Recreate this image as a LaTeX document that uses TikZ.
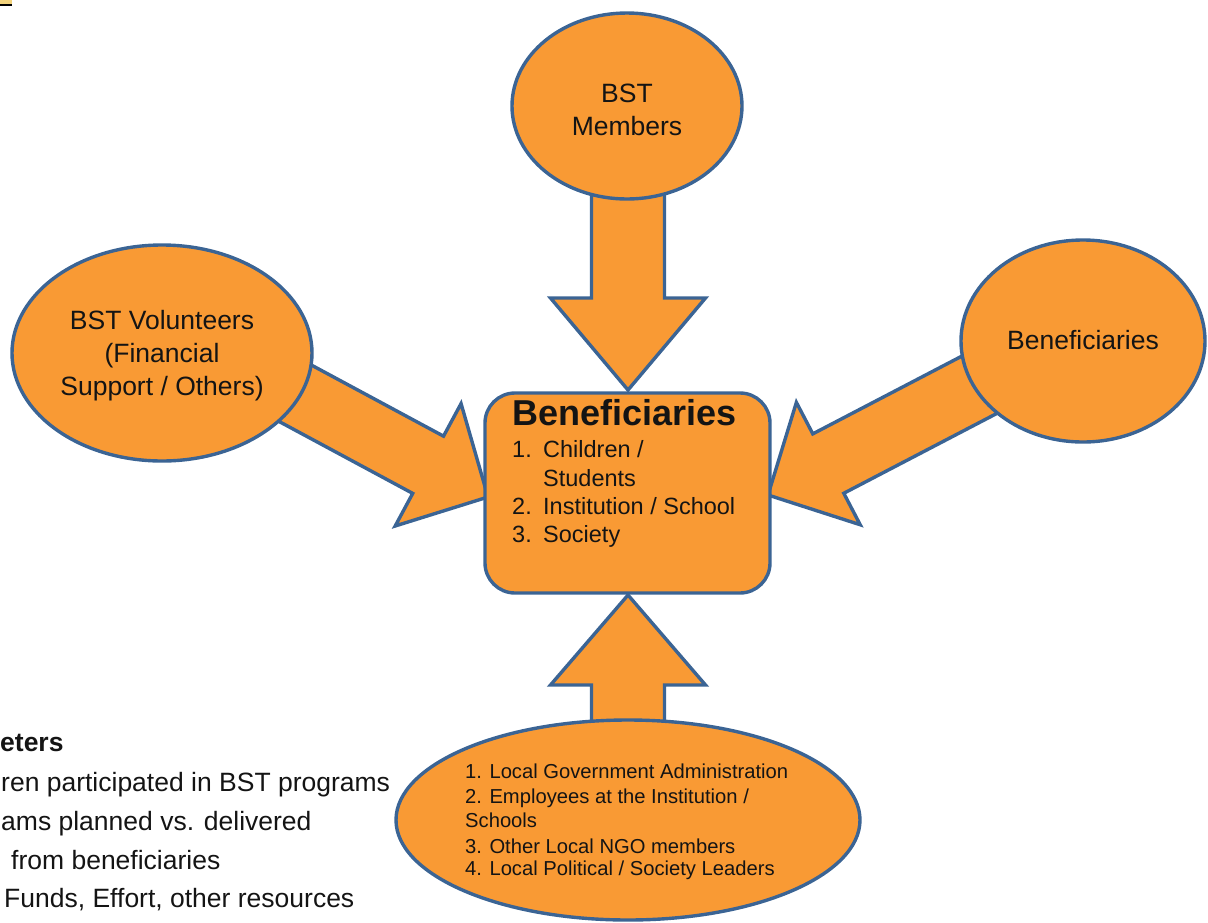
\documentclass[tikz,border=0pt]{standalone}
\usepackage{fontspec}
\setmainfont{Liberation Sans}
\usetikzlibrary{calc,shapes.geometric}
\definecolor{orfill}{HTML}{F99A34}
\definecolor{bline}{HTML}{3B6494}
\definecolor{txt}{HTML}{141414}
\definecolor{markyel}{HTML}{F3D37C}
\newcommand\blockarr[6]{% start, tip, half shaft, half head, head length, name
  \coordinate (#6b) at ($(#2)!#5!(#1)$);
  \draw[blockarrow] ($(#1)!#3!90:(#2)$) -- ($(#6b)!#3!90:(#2)$) -- ($(#6b)!#4!90:(#2)$) -- (#2)
    -- ($(#6b)!#4!-90:(#2)$) -- ($(#6b)!#3!-90:(#2)$) -- ($(#1)!#3!-90:(#2)$) -- cycle;
}
\begin{document}
\begin{tikzpicture}[x=1pt,y=-1pt,
  shapeline/.style={draw=bline,line width=3.4pt,fill=orfill},
  blockarrow/.style={shapeline,line join=miter},
  oval/.style={shapeline,ellipse,inner sep=0pt,text=txt},
  ovaltext/.style={text=txt,align=center,font=\fontsize{26.5}{33}\selectfont},
  listtext/.style={text=txt,anchor=base west,font=\fontsize{23.5}{28}\selectfont,inner sep=0pt},
  smalltext/.style={text=txt,anchor=base west,font=\fontsize{20.2}{24}\selectfont,inner sep=0pt},
  sidetext/.style={text=txt,anchor=base west,font=\fontsize{26.5}{32}\selectfont,inner sep=0pt}]
\useasboundingbox (0,0) rectangle (1208,922);
% corner mark
\fill[markyel] (0,0) rectangle (12,4);
\fill[black] (0,4) rectangle (12,6);
% arrow anchor coordinates
\coordinate (tS) at (628,160);
\coordinate (tT) at (628,390);
\coordinate (bS) at (628,760);
\coordinate (bT) at (628,595);
\coordinate (lS) at (252,370);
\coordinate (lT) at (488,497);
\coordinate (rS) at (1023,362);
\coordinate (rT) at (768,495);
\blockarr{tS}{tT}{36.5pt}{77.5pt}{92pt}{ta}
\blockarr{bS}{bT}{36.5pt}{77.5pt}{90pt}{ba}
\blockarr{lS}{lT}{32.5pt}{69.5pt}{68pt}{la}
\blockarr{rS}{rT}{33.5pt}{69pt}{68pt}{ra}
% center box
\node[shapeline,rectangle,rounded corners=30pt,minimum width=285pt,minimum height=200pt] (box) at (627.5,493) {};
\node[text=txt,anchor=base west,inner sep=0pt,font=\fontsize{36}{40}\selectfont\bfseries] (btitle) at (512,425) {Beneficiaries};
\node[listtext] (n1) at (512,457) {1.};
\node[listtext] (i1) at (543,457) {Children /};
\node[listtext] (i1b) at (543,486) {Students};
\node[listtext] (n2) at (512,514) {2.};
\node[listtext] (i2) at (543,514) {Institution / School};
\node[listtext] (n3) at (512,542) {3.};
\node[listtext] (i3) at (543,542) {Society};
% ellipses
\node[oval,minimum width=230pt,minimum height=186pt] (top) at (627,106) {};
\node[ovaltext] (toptext) at (627,110) {BST\\Members};
\node[oval,minimum width=300pt,minimum height=216pt] (left) at (162,353) {};
\node[ovaltext] (lefttext) at (162,356) {BST Volunteers\\(Financial\\Support / Others)};
\node[oval,minimum width=244pt,minimum height=202pt] (right) at (1083,341) {};
\node[ovaltext] (righttext) at (1083,340) {Beneficiaries};
\node[oval,minimum width=464pt,minimum height=200pt] (bottom) at (628,820) {};
\node[smalltext] (s1) at (465,778) {1. Local Government Administration};
\node[smalltext] (s2) at (465,803) {2. Employees at the Institution /};
\node[smalltext] (s3) at (465,827) {Schools};
\node[smalltext] (s4) at (465,853) {3. Other Local NGO members};
\node[smalltext] (s5) at (465,875) {4. Local Political / Society Leaders};
% bottom-left list fragment
\node[sidetext,font=\fontsize{26.5}{32}\selectfont\bfseries] (p0) at (0,751) {eters};
\node[sidetext] (p1) at (1,791) {ren participated in BST programs};
\node[sidetext] (p2) at (1,830) {ams planned vs. delivered};
\node[sidetext] (p3) at (11,869) {from beneficiaries};
\node[sidetext] (p4) at (4,907) {Funds, Effort, other resources};
\end{tikzpicture}
\end{document}
